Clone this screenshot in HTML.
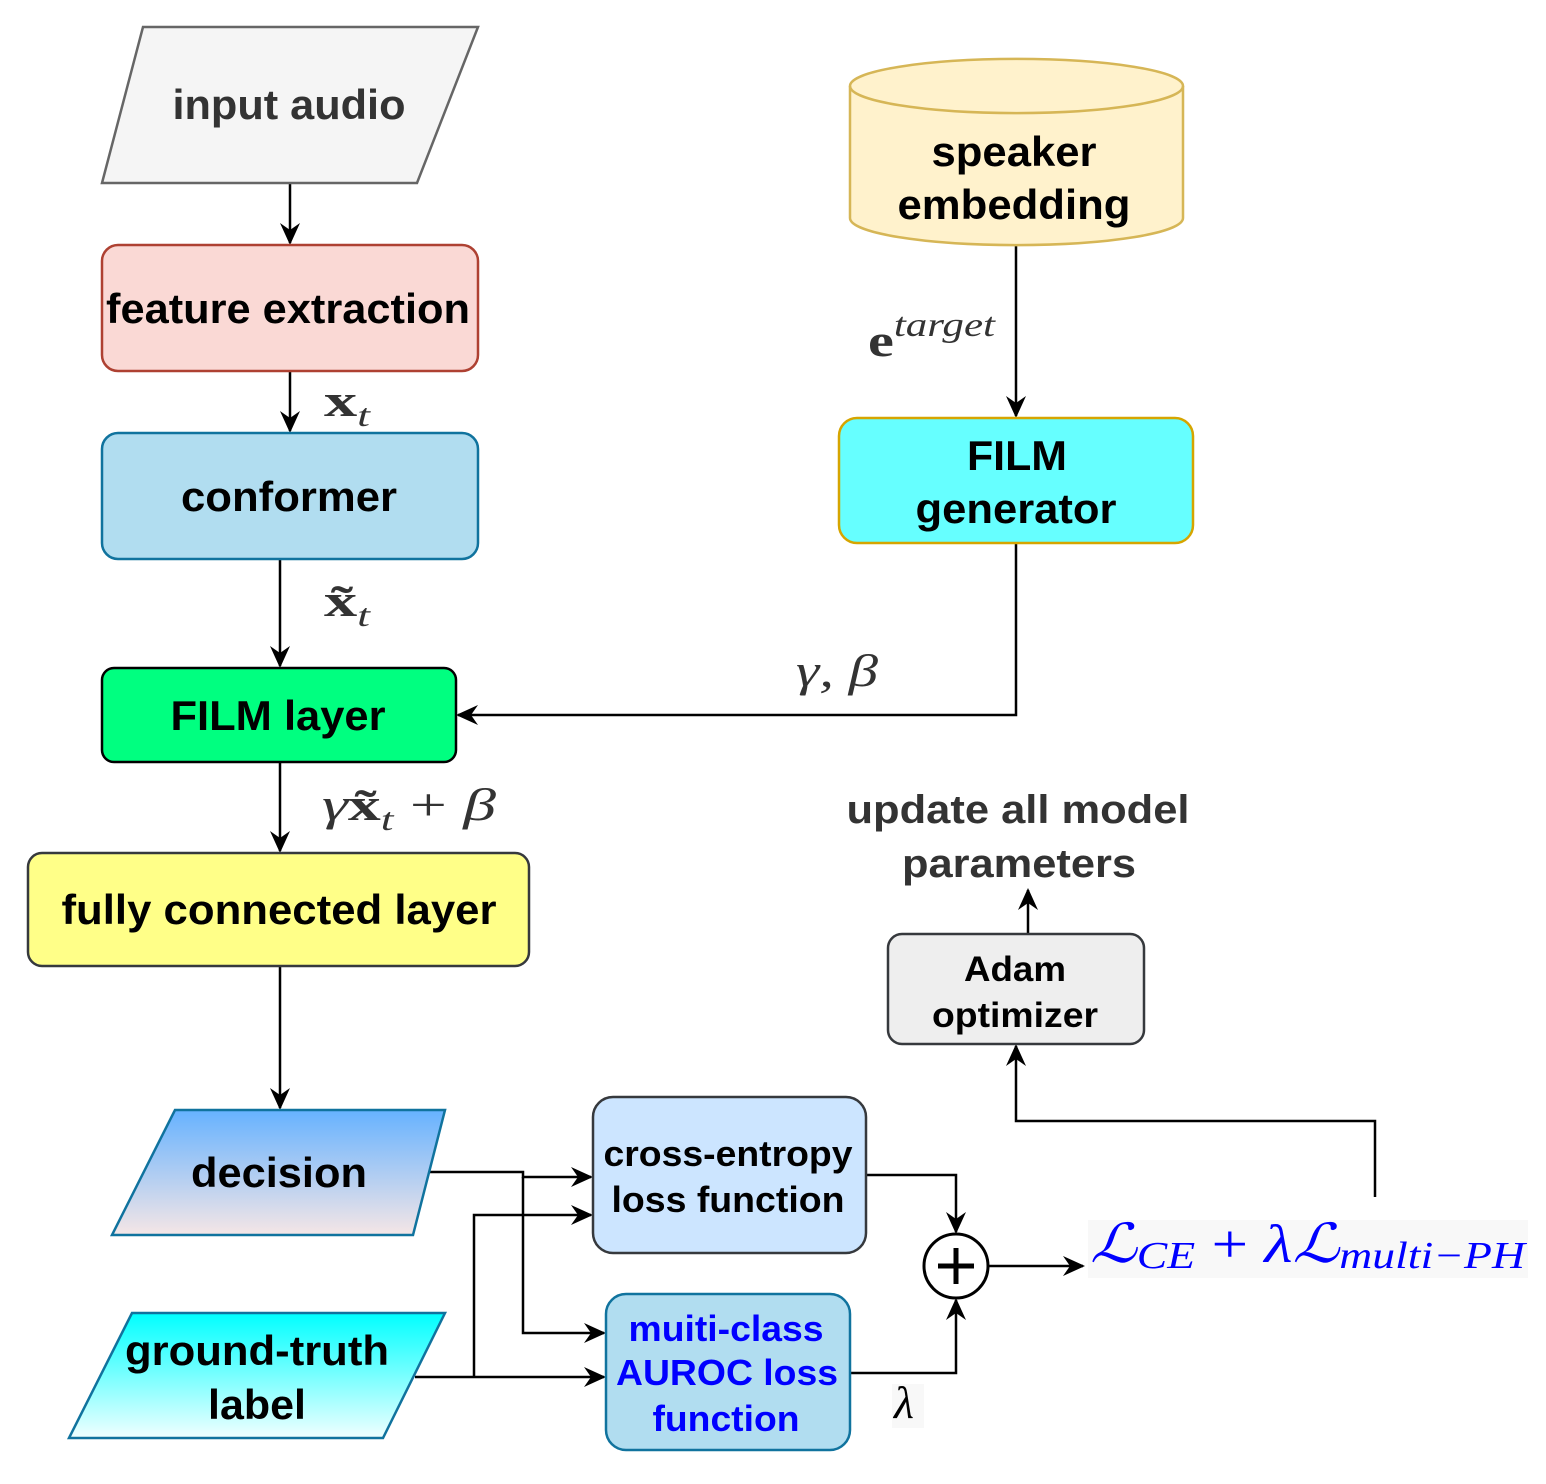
<!DOCTYPE html>
<html><head><meta charset="utf-8"><style>
body{margin:0;background:#fff}
svg text{font-family:"Liberation Sans",Arial,sans-serif;font-weight:bold;text-anchor:middle}
.m{font-family:"Liberation Serif",serif;font-weight:normal;font-style:italic;fill:#333;text-anchor:start}
</style></head><body>
<svg width="1546" height="1479" viewBox="0 0 1546 1479" xmlns="http://www.w3.org/2000/svg">
<defs>
<marker id="a" markerWidth="22" markerHeight="22" refX="20" refY="11" orient="auto" markerUnits="userSpaceOnUse" viewBox="0 0 22 22"><path d="M0,1 L22,11 L0,21 L7,11 Z" fill="#000"/></marker>
<linearGradient id="g1" x1="0" y1="0" x2="0" y2="1"><stop offset="0" stop-color="#66b2ff"/><stop offset="1" stop-color="#f5e6e6"/></linearGradient>
<linearGradient id="g2" x1="0" y1="0" x2="0" y2="1"><stop offset="0" stop-color="#00ffff"/><stop offset="1" stop-color="#f0ffff"/></linearGradient>
</defs>
<g fill="none" stroke="#000" stroke-width="2.5">
<path d="M290,183 V243" marker-end="url(#a)"/>
<path d="M290,371 V431" marker-end="url(#a)"/>
<path d="M280,559 V666" marker-end="url(#a)"/>
<path d="M280,762 V851" marker-end="url(#a)"/>
<path d="M280,966 V1108" marker-end="url(#a)"/>
<path d="M1016,245 V416" marker-end="url(#a)"/>
<path d="M1016,543 V715 H458" marker-end="url(#a)"/>
<path d="M415,1172 H523 V1177 H591" marker-end="url(#a)"/>
<path d="M523,1177 V1333 H604" marker-end="url(#a)"/>
<path d="M415,1377 H604" marker-end="url(#a)"/>
<path d="M474,1377 V1215 H591" marker-end="url(#a)"/>
<path d="M866,1175 H956 V1232" marker-end="url(#a)"/>
<path d="M850,1373 H956 V1300" marker-end="url(#a)"/>
<path d="M988,1266 H1083" marker-end="url(#a)"/>
<path d="M1375,1197 V1121 H1016 V1046" marker-end="url(#a)"/>
<path d="M1028,934 V890" marker-end="url(#a)"/>
</g>
<polygon points="143,27 478,27 417,183 102,183" fill="#f5f5f5" stroke="#666" stroke-width="2.5"/>
<text x="289" y="119" font-size="42" fill="#333" textLength="233" lengthAdjust="spacingAndGlyphs">input audio</text>
<rect x="102" y="245" width="376" height="126" rx="16" fill="#fad9d5" stroke="#ae4132" stroke-width="2.5"/>
<text x="288" y="323" font-size="42" textLength="364" lengthAdjust="spacingAndGlyphs">feature extraction</text>
<rect x="102" y="433" width="376" height="126" rx="16" fill="#b1ddf0" stroke="#10739e" stroke-width="2.5"/>
<text x="289" y="511" font-size="42" textLength="216" lengthAdjust="spacingAndGlyphs">conformer</text>
<rect x="102" y="668" width="354" height="94" rx="12" fill="#00ff80" stroke="#000" stroke-width="2.5"/>
<text x="278" y="730" font-size="42" textLength="215" lengthAdjust="spacingAndGlyphs">FILM layer</text>
<rect x="28" y="853" width="501" height="113" rx="14" fill="#ffff88" stroke="#36393d" stroke-width="2.5"/>
<text x="279" y="924" font-size="42" textLength="435" lengthAdjust="spacingAndGlyphs">fully connected layer</text>
<polygon points="175,1110 445,1110 413,1235 112,1235" fill="url(#g1)" stroke="#10739e" stroke-width="2.5"/>
<text x="279" y="1187" font-size="42" textLength="176" lengthAdjust="spacingAndGlyphs">decision</text>
<polygon points="132,1313 445,1313 383,1438 69,1438" fill="url(#g2)" stroke="#10739e" stroke-width="2.5"/>
<text x="257" y="1365" font-size="42" textLength="264" lengthAdjust="spacingAndGlyphs">ground-truth</text>
<text x="257" y="1419" font-size="42" textLength="98" lengthAdjust="spacingAndGlyphs">label</text>
<rect x="593" y="1097" width="273" height="156" rx="20" fill="#cce5ff" stroke="#36393d" stroke-width="2.5"/>
<text x="728" y="1166" font-size="36" textLength="249" lengthAdjust="spacingAndGlyphs">cross-entropy</text>
<text x="728" y="1212" font-size="36" textLength="233" lengthAdjust="spacingAndGlyphs">loss function</text>
<rect x="606" y="1294" width="244" height="156" rx="20" fill="#b1ddf0" stroke="#10739e" stroke-width="2.5"/>
<text x="726" y="1341" font-size="36" fill="#0000ff" textLength="195" lengthAdjust="spacingAndGlyphs">muiti-class</text>
<text x="727" y="1385" font-size="36" fill="#0000ff" textLength="222" lengthAdjust="spacingAndGlyphs">AUROC loss</text>
<text x="726" y="1431" font-size="36" fill="#0000ff" textLength="147" lengthAdjust="spacingAndGlyphs">function</text>
<circle cx="956" cy="1266" r="32" fill="#fff" stroke="#000" stroke-width="3"/>
<path d="M938,1266 H974 M956,1248 V1284" stroke="#000" stroke-width="5"/>
<rect x="1088" y="1220" width="440" height="58" fill="#f8f8f8"/>
<text x="1090" y="1262" class="m" font-size="54" style="fill:#0000ff" textLength="435" lengthAdjust="spacingAndGlyphs">ℒ<tspan font-size="38" dy="6">CE</tspan><tspan dy="-6" font-style="normal"> + </tspan>λℒ<tspan font-size="38" dy="6">multi−PH</tspan></text>
<rect x="888" y="934" width="256" height="110" rx="14" fill="#eeeeee" stroke="#36393d" stroke-width="2.5"/>
<text x="1015" y="981" font-size="35" textLength="102" lengthAdjust="spacingAndGlyphs">Adam</text>
<text x="1015" y="1027" font-size="35" textLength="166" lengthAdjust="spacingAndGlyphs">optimizer</text>
<text x="1018" y="823" font-size="40" fill="#333" textLength="343" lengthAdjust="spacingAndGlyphs">update all model</text>
<text x="1019" y="877" font-size="40" fill="#333" textLength="234" lengthAdjust="spacingAndGlyphs">parameters</text>
<path d="M850,86 V218 A166,27 0 0 0 1183,218 V86 A166,27 0 0 0 850,86 Z" fill="#fff2cc" stroke="#d6b656" stroke-width="2.5"/>
<path d="M850,86 A166,27 0 0 0 1183,86" fill="none" stroke="#d6b656" stroke-width="2.5"/>
<text x="1014" y="166" font-size="42" textLength="165" lengthAdjust="spacingAndGlyphs">speaker</text>
<text x="1014" y="219" font-size="42" textLength="233" lengthAdjust="spacingAndGlyphs">embedding</text>
<rect x="839" y="418" width="354" height="125" rx="18" fill="#66ffff" stroke="#d6a500" stroke-width="2.5"/>
<text x="1017" y="470" font-size="42" textLength="100" lengthAdjust="spacingAndGlyphs">FILM</text>
<text x="1016" y="523" font-size="42" textLength="201" lengthAdjust="spacingAndGlyphs">generator</text>
<text x="324" y="416" class="m" font-size="46" textLength="46" lengthAdjust="spacingAndGlyphs"><tspan font-style="normal" font-weight="bold">x</tspan><tspan font-size="32" dy="10">t</tspan></text>
<text x="324" y="616" class="m" font-size="46" textLength="46" lengthAdjust="spacingAndGlyphs"><tspan font-style="normal" font-weight="bold">x̃</tspan><tspan font-size="32" dy="10">t</tspan></text>
<text x="868" y="356" class="m" font-size="46" textLength="127" lengthAdjust="spacingAndGlyphs"><tspan font-style="normal" font-weight="bold">e</tspan><tspan font-size="34" dy="-20">target</tspan></text>
<text x="796" y="686" class="m" font-size="46" textLength="82" lengthAdjust="spacingAndGlyphs">γ, β</text>
<text x="322" y="820" class="m" font-size="46" textLength="174" lengthAdjust="spacingAndGlyphs">γ<tspan font-style="normal" font-weight="bold">x̃</tspan><tspan font-size="32" dy="10">t</tspan><tspan dy="-10" font-style="normal"> + </tspan>β</text>
<rect x="892" y="1384" width="32" height="44" fill="#f8f8f8"/>
<text x="894" y="1418" class="m" font-size="46" style="fill:#000">λ</text>
</svg>
</body></html>
